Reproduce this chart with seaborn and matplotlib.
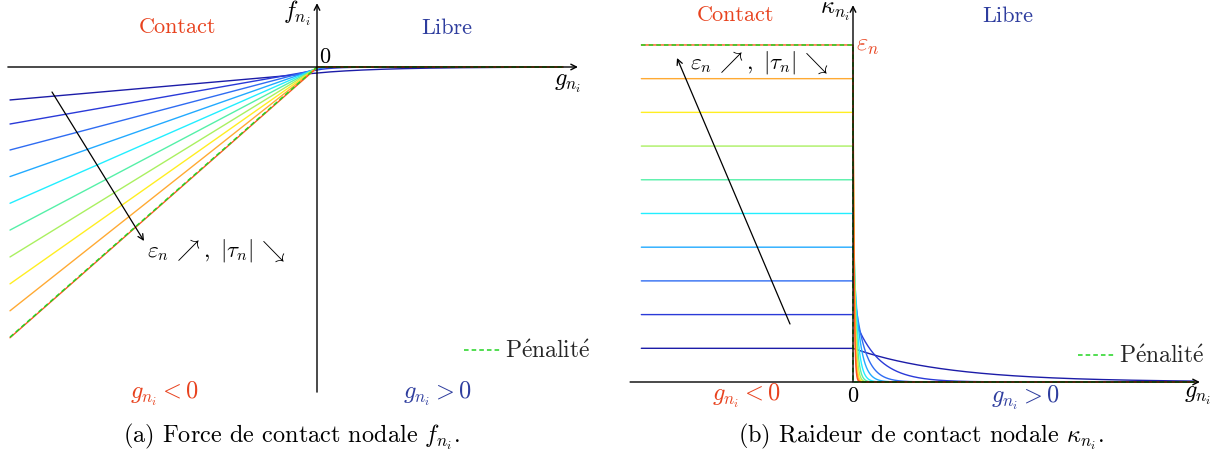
import numpy as np
import pandas as pd
import matplotlib
matplotlib.use('Agg')
import matplotlib.pyplot as plt
from matplotlib.lines import Line2D
import seaborn as sns

# ten regularised laws, k = 1..10 (eps grows, tau shrinks)
eps_n = 0.88
eps = [0.088, 0.176, 0.264, 0.352, 0.44, 0.528, 0.616, 0.704, 0.792, 0.88]
tau = [0.22, 0.055, 0.024, 0.014, 0.0088, 0.0061, 0.0045, 0.0034, 0.0027, 0.0022]
colors = ['#1c1ca8', '#2a3ad8', '#2f6cf2', '#22aaff', '#22eeff',
          '#55f0a8', '#aaf060', '#ffee22', '#ffaa33', '#ff5522']
names = ['k%d' % (i + 1) for i in range(len(eps))]

g_left = (-1.0, 0.8)
g_right = (-0.49, 0.79)

RED = '#e8421e'
BLUE = '#2e3d9e'
GREEN = '#22d422'
W, H = 1231, 457


def force(g, e, t):
    return np.where(g < 0, e * g - e * t, -e * t * np.exp(-np.clip(g, 0, None) / t))


def stiffness(g, e, t):
    return np.where(g < 0, e, e * np.exp(-np.clip(g, 0, None) / t))


def curves(law, lims):
    g = np.linspace(lims[0], lims[1], 6000)
    frames = []
    for n, e, t in zip(names, eps, tau):
        frames.append(pd.DataFrame({'g': g, 'v': law(g, e, t), 'k': n}))
    return pd.concat(frames, ignore_index=True)


sns.set_style('white')
plt.rcParams['font.family'] = ['cmr10', 'DejaVu Serif']
plt.rcParams['mathtext.fontset'] = 'cm'
plt.rcParams['axes.unicode_minus'] = False
FS = 16      # plain words
FM = 17.5    # math labels
FC = 17.5    # captions

fig = plt.figure(figsize=(W / 100, H / 100), dpi=100)

# left panel: 307 px per unit, origin at pixel (317, 67)
axl = fig.add_axes([0, 0, 615 / W, 1])
axl.set_xlim((0 - 317) / 307, (615 - 317) / 307)
axl.set_ylim((67 - 457) / 307, 67 / 307)
# right panel: 432 px per unit in g, 383 px per unit in kappa, origin (853, 382)
axr = fig.add_axes([615 / W, 0, 616 / W, 1])
axr.set_xlim((615 - 853) / 432, (1231 - 853) / 432)
axr.set_ylim((382 - 457) / 383, 382 / 383)

pal = dict(zip(names, colors))
sns.lineplot(data=curves(force, g_left), x='g', y='v', hue='k', palette=pal,
             estimator=None, sort=False, legend=False, lw=1.0, ax=axl)
sns.lineplot(data=curves(stiffness, g_right), x='g', y='v', hue='k', palette=pal,
             estimator=None, sort=False, legend=False, lw=1.0, ax=axr)

pen_f = pd.DataFrame({'g': [g_left[0], 0, g_left[1]], 'v': [eps_n * g_left[0], 0, 0]})
pen_k = pd.DataFrame({'g': [g_right[0], 0, 0, g_right[1]], 'v': [eps_n, eps_n, 0, 0]})
for ax, pen in [(axl, pen_f), (axr, pen_k)]:
    sns.lineplot(data=pen, x='g', y='v', estimator=None, sort=False, color=GREEN,
                 lw=1.1, dashes=(3, 2), ax=ax, zorder=3)
    ax.axis('off')

# axes with arrow heads
arr = dict(arrowstyle='->', lw=1.0, color='black', shrinkA=0, shrinkB=0, mutation_scale=10)
axl.annotate('', xy=(0.85, 0), xytext=(-1.007, 0), arrowprops=arr, zorder=4)
axl.annotate('', xy=(0, 0.208), xytext=(0, -1.059), arrowprops=arr, zorder=4)
axr.annotate('', xy=(0.803, 0), xytext=(-0.516, 0), arrowprops=arr, zorder=4)
axr.annotate('', xy=(0, 0.984), xytext=(0, 0), arrowprops=arr, zorder=4)

# trend arrows
arr2 = dict(arrowstyle='->', lw=0.9, color='black', shrinkA=0, shrinkB=0, mutation_scale=10)
fig.add_artist(matplotlib.patches.FancyArrowPatch((52 / W, 1 - 92 / H), (144 / W, 1 - 241 / H),
                                                  transform=fig.transFigure, **arr2))
fig.add_artist(matplotlib.patches.FancyArrowPatch((790 / W, 1 - 324 / H), (677 / W, 1 - 58 / H),
                                                  transform=fig.transFigure, **arr2))


def label(s, x, y, color='black', ha='center', size=FS):
    fig.text(x / W, 1 - y / H, s, color=color, ha=ha, va='center', fontsize=size)


trend = r'$\varepsilon_n\, \nearrow,\ |\tau_n|\, \searrow$'
# left texts
label('Contact', 177, 27, RED)
label('Libre', 447, 28, BLUE)
label(r'$f_{n_i}$', 297, 13, size=FM)
label('0', 325, 57)
label(r'$g_{n_i}$', 568, 84, size=FM)
label(trend, 147, 251, ha='left', size=16.5)
label(r'$g_{n_i} < 0$', 165, 394, RED, size=FM)
label(r'$g_{n_i} > 0$', 438, 394, BLUE, size=FM)
label(r'(a) Force de contact nodale $f_{n_i}$.', 292, 437, size=FC)
# right texts
label('Contact', 735, 15, RED)
label('Libre', 1008, 16, BLUE)
label(r'$\kappa_{n_i}$', 835, 12, size=FM)
label(r'$\varepsilon_n$', 868, 46, RED, size=FM)
label(trend, 690, 63, ha='left', size=16.5)
label('0', 853, 396)
label(r'$g_{n_i}$', 1198, 396, size=FM)
label(r'$g_{n_i} < 0$', 747, 396, RED, size=FM)
label(r'$g_{n_i} > 0$', 1026, 398, BLUE, size=FM)
label(r'(b) Raideur de contact nodale $\kappa_{n_i}$.', 921, 437, size=FC)

# legends
handle = [Line2D([], [], color=GREEN, lw=1.1, dashes=(3, 2))]
for ax, x, y in [(axl, 590, 352), (axr, 1204, 357)]:
    ax.legend(handle, [r'$\mathrm{P\acute{e}nalit\acute{e}}$'], frameon=False, loc='center right',
              bbox_to_anchor=(x / W, 1 - y / H), bbox_transform=fig.transFigure,
              handlelength=1.6, handletextpad=0.1, borderpad=0, borderaxespad=0,
              fontsize=17)

fig.savefig('out.png', dpi=100)
